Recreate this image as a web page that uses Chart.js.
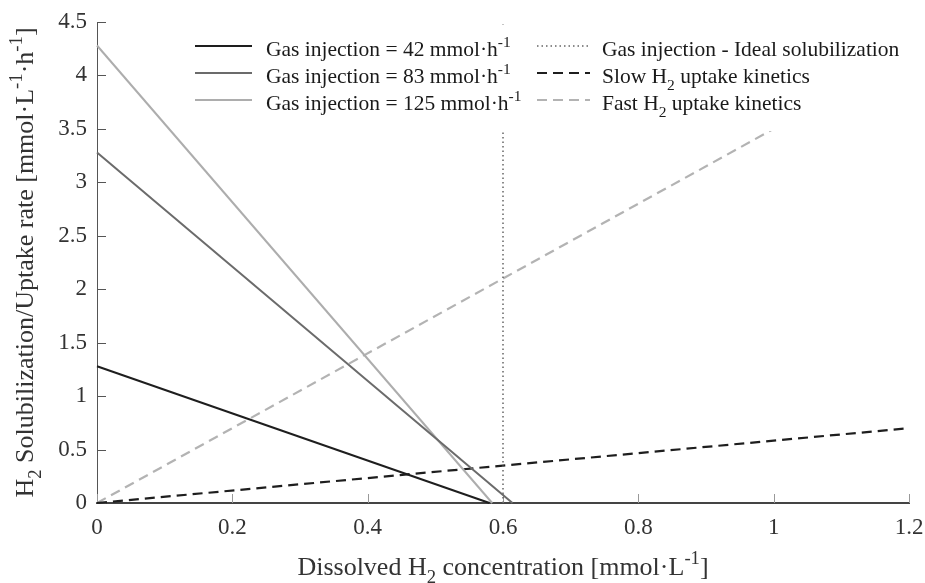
<!DOCTYPE html>
<html>
<head>
<meta charset="utf-8">
<script src="https://cdn.jsdelivr.net/npm/chart.js@4.4.0/dist/chart.umd.min.js"></script>
<style>
html,body{margin:0;padding:0;background:#fff;}
</style>
</head>
<body>
<canvas id="chart" width="925" height="583"></canvas>
<script>
// =========== Data ============
const gasRates = ["42","83","125"];
const gasY0 = [1.28,3.28,4.28];    // rate when no H2 is dissolved
const gasX0 = [0.58,0.614,0.584];  // dissolved H2 where the rate hits 0
const idealX = [0.6,0.6];
const idealY = [0,4.5];
const slowX = [0,1.2];
const slowY = [0,0.70];
const fastX = [0,1.2];
const fastY = [0,4.2];
const xTicks = [0,0.2,0.4,0.6,0.8,1,1.2];
const yTicks = [0,0.5,1,1.5,2,2.5,3,3.5,4,4.5];

const FONT = "'Liberation Serif', 'Times New Roman', serif";
const gasColors = ["#1e1e1e","#6b6b6b","#adadad"];

function pts(xs,ys){ return xs.map((x,i)=>({x:x,y:ys[i]})); }

const datasets = gasRates.map((r,i)=>({
  label:"Gas injection = "+r+" mmol·h-1",
  data:pts([0,gasX0[i]],[gasY0[i],0]),
  borderColor:gasColors[i], borderWidth:2
}));
datasets.push({ label:"Gas injection - Ideal solubilization", data:pts(idealX,idealY),
  borderColor:"#666", borderWidth:1.5, borderDash:[1.5,3] });
datasets.push({ label:"Slow H2 uptake kinetics", data:pts(slowX,slowY),
  borderColor:"#1e1e1e", borderWidth:2.2, borderDash:[10,6] });
datasets.push({ label:"Fast H2 uptake kinetics", data:pts(fastX,fastY),
  borderColor:"#b3b3b3", borderWidth:2.2, borderDash:[10,6] });
datasets.forEach(d=>{ d.showLine=true; d.pointRadius=0; d.fill=false; d.clip=4; });

// =========== rich text (sub / superscripts) ============
function partFont(size,mode){ return ((mode?size*0.72:size).toFixed(1))+"px "+FONT; }
function richWidth(ctx,parts,size){
  let w=0;
  parts.forEach(p=>{ ctx.font=partFont(size,p[1]); w+=ctx.measureText(p[0]).width; });
  return w;
}
function drawRich(ctx,parts,x,y,size,align){
  let cx = align==="center" ? x-richWidth(ctx,parts,size)/2 : x;
  ctx.textBaseline="alphabetic"; ctx.textAlign="left";
  parts.forEach(p=>{
    ctx.font=partFont(size,p[1]);
    let dy = p[1]==="sub" ? size*0.32 : p[1]==="sup" ? -size*0.42 : 0;
    ctx.fillText(p[0],cx,y+dy);
    cx+=ctx.measureText(p[0]).width;
  });
}

const xTitle = [["Dissolved H",""],["2","sub"],[" concentration [mmol·L",""],["-1","sup"],["]",""]];
const yTitle = [["H",""],["2","sub"],[" Solubilization/Uptake rate [mmol·L",""],["-1","sup"],["·h",""],["-1","sup"],["]",""]];

const legendItems = [
  {parts:[["Gas injection = 42 mmol·h",""],["-1","sup"]], ds:0, col:0, row:0},
  {parts:[["Gas injection = 83 mmol·h",""],["-1","sup"]], ds:1, col:0, row:1},
  {parts:[["Gas injection = 125 mmol·h",""],["-1","sup"]], ds:2, col:0, row:2},
  {parts:[["Gas injection - Ideal solubilization",""]], ds:3, col:1, row:0},
  {parts:[["Slow H",""],["2","sub"],[" uptake kinetics",""]], ds:4, col:1, row:1},
  {parts:[["Fast H",""],["2","sub"],[" uptake kinetics",""]], ds:5, col:1, row:2}
];
const legCols = [{x0:195,x1:252,tx:266},{x0:537,x1:590,tx:602}];
const legRows = [56,83,110];

const decorPlugin = {
  id:"decor",
  beforeDatasetsDraw(chart){
    const ctx=chart.ctx, a=chart.chartArea, xs=chart.scales.x, ys=chart.scales.y;
    ctx.save();
    ctx.lineWidth=1;
    ctx.strokeStyle="#999";
    xTicks.forEach(v=>{
      const px=Math.round(xs.getPixelForValue(v))+0.5;
      ctx.beginPath(); ctx.moveTo(px,a.bottom); ctx.lineTo(px,a.bottom-9); ctx.stroke();
    });
    ctx.strokeStyle="#555";
    yTicks.forEach(v=>{
      const py=Math.round(ys.getPixelForValue(v))+0.5;
      ctx.beginPath(); ctx.moveTo(a.left,py); ctx.lineTo(a.left+9,py); ctx.stroke();
    });
    ctx.restore();
  },
  afterDatasetsDraw(chart){
    const ctx=chart.ctx;
    ctx.save();
    // legend box (white, hides the lines behind it)
    ctx.fillStyle="#fff";
    ctx.fillRect(188,25,717,106);
    legendItems.forEach(it=>{
      const d=chart.data.datasets[it.ds], c=legCols[it.col], by=legRows[it.row];
      ctx.strokeStyle=d.borderColor; ctx.lineWidth=d.borderWidth;
      ctx.setLineDash(d.borderDash||[]);
      ctx.beginPath(); ctx.moveTo(c.x0,by-10); ctx.lineTo(c.x1,by-10); ctx.stroke();
      ctx.setLineDash([]);
      ctx.fillStyle="#1a1a1a";
      drawRich(ctx,it.parts,c.tx,by,21.5,"left");
    });
    // axis titles
    const a=chart.chartArea;
    ctx.fillStyle="#333";
    drawRich(ctx,xTitle,(a.left+a.right)/2,575,26,"center");
    ctx.translate(33,(a.top+a.bottom)/2);
    ctx.rotate(-Math.PI/2);
    drawRich(ctx,yTitle,0,0,26,"center");
    ctx.restore();
  }
};

// =========== Chart ============
new Chart(document.getElementById("chart"),{
  type:"scatter",
  data:{ datasets:datasets },
  options:{
    responsive:false, animation:false,
    layout:{ padding:{left:0,top:22,right:16,bottom:0} },
    plugins:{ legend:{display:false}, tooltip:{enabled:false} },
    scales:{
      x:{
        type:"linear", min:0, max:1.2,
        afterBuildTicks:s=>{ s.ticks=xTicks.map(v=>({value:v})); },
        afterFit:s=>{ s.height=80; s.paddingRight=0; s.paddingLeft=0; },
        ticks:{ font:{family:FONT,size:23}, color:"#333", padding:11, maxRotation:0, callback:v=>String(v) },
        grid:{ display:false, drawTicks:false },
        border:{ display:true, color:"#444", width:2 }
      },
      y:{
        type:"linear", min:0, max:4.5,
        afterBuildTicks:s=>{ s.ticks=yTicks.map(v=>({value:v})); },
        afterFit:s=>{ s.width=97; s.paddingTop=0; s.paddingBottom=0; },
        ticks:{ font:{family:FONT,size:23}, color:"#333", padding:10, callback:v=>String(v) },
        grid:{ display:false, drawTicks:false },
        border:{ display:true, color:"#555", width:1 }
      }
    }
  },
  plugins:[decorPlugin]
});
</script>
</body>
</html>
